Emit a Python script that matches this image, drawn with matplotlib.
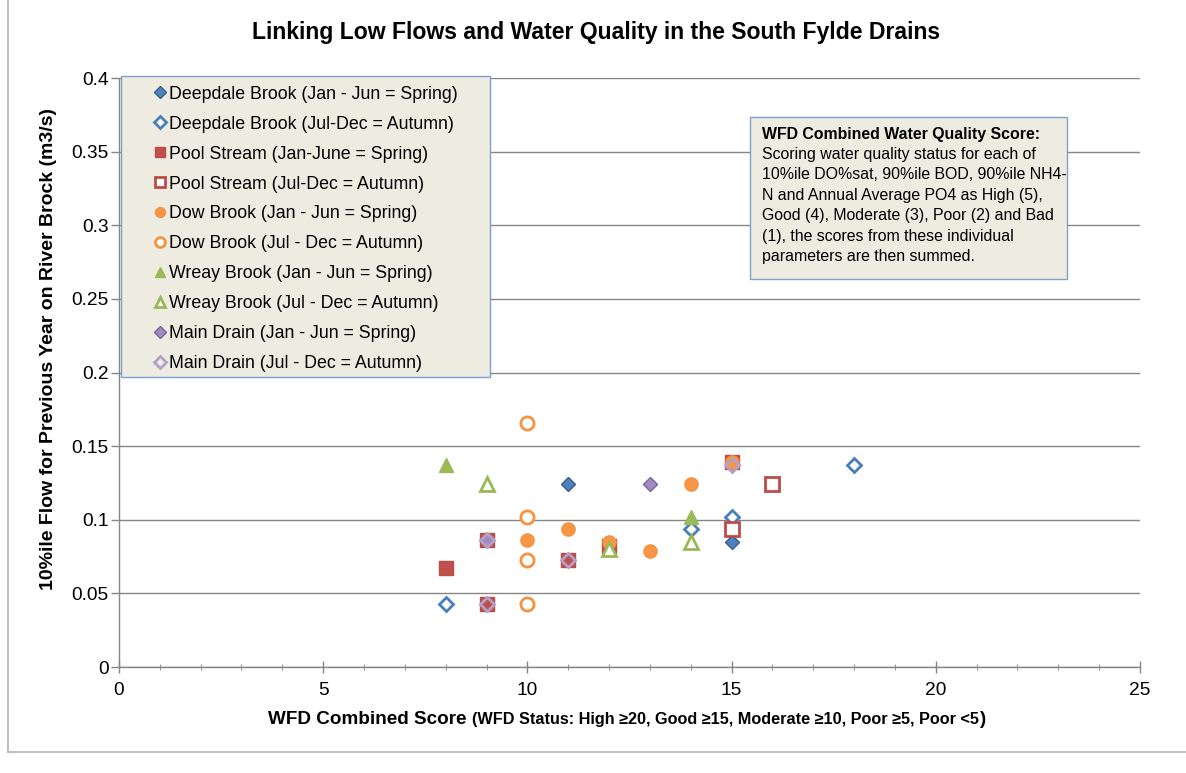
import matplotlib
matplotlib.use("Agg")
import matplotlib.pyplot as plt
from matplotlib.ticker import MultipleLocator, FuncFormatter
from matplotlib.patches import Rectangle

plt.rcParams['font.family'] = ['Liberation Sans', 'DejaVu Sans']

# ---- data ----
deepdale_spring_x = [11, 15, 12]
deepdale_spring_y = [0.124, 0.085, 0.080]
deepdale_autumn_x = [8, 14, 15, 18]
deepdale_autumn_y = [0.043, 0.094, 0.102, 0.137]
pool_spring_x = [8, 9, 9, 11, 12, 15]
pool_spring_y = [0.067, 0.086, 0.043, 0.073, 0.082, 0.139]
pool_autumn_x = [15, 16]
pool_autumn_y = [0.094, 0.124]
dow_spring_x = [10, 11, 12, 13, 14, 15]
dow_spring_y = [0.086, 0.094, 0.085, 0.079, 0.124, 0.139]
dow_autumn_x = [10, 10, 10, 10]
dow_autumn_y = [0.166, 0.102, 0.073, 0.043]
wreay_spring_x = [8, 14]
wreay_spring_y = [0.137, 0.102]
wreay_autumn_x = [9, 12, 14]
wreay_autumn_y = [0.124, 0.080, 0.085]
main_spring_x = [13, 9]
main_spring_y = [0.124, 0.086]
main_autumn_x = [9, 9, 11, 15]
main_autumn_y = [0.086, 0.043, 0.073, 0.137]

labels = ["Deepdale Brook (Jan - Jun = Spring)",
          "Deepdale Brook (Jul-Dec = Autumn)",
          "Pool Stream (Jan-June = Spring)",
          "Pool Stream (Jul-Dec = Autumn)",
          "Dow Brook (Jan - Jun = Spring)",
          "Dow Brook (Jul - Dec = Autumn)",
          "Wreay Brook (Jan - Jun = Spring)",
          "Wreay Brook (Jul - Dec = Autumn)",
          "Main Drain (Jan - Jun = Spring)",
          "Main Drain (Jul - Dec = Autumn)"]

x_ticks = [0, 5, 10, 15, 20, 25]
y_ticks = [0, 0.05, 0.1, 0.15, 0.2, 0.25, 0.3, 0.35, 0.4]

W, H = 1186, 773
fig = plt.figure(figsize=(W / 100, H / 100), dpi=100)
ax = fig.add_axes([0.1003, 0.1371, 0.8609, 0.7619])

series = [
    (deepdale_spring_x, deepdale_spring_y, 'D', '#4F81BD', '#385D8A', True, 7.5),
    (deepdale_autumn_x, deepdale_autumn_y, 'D', 'white', '#4A7EBB', False, 7.5),
    (pool_spring_x, pool_spring_y, 's', '#C0504D', '#BE4B48', True, 9.5),
    (pool_autumn_x, pool_autumn_y, 's', 'white', '#BE4B48', False, 9.5),
    (dow_spring_x, dow_spring_y, 'o', '#F79646', '#F69240', True, 9.5),
    (dow_autumn_x, dow_autumn_y, 'o', 'white', '#F69240', False, 9.5),
    (wreay_spring_x, wreay_spring_y, '^', '#9BBB59', '#98B954', True, 9.5),
    (wreay_autumn_x, wreay_autumn_y, '^', 'white', '#98B954', False, 9.5),
    (main_spring_x, main_spring_y, 'D', '#9F8CC0', '#7D60A0', True, 7.5),
    (main_autumn_x, main_autumn_y, 'D', 'none', '#B3A2C7', False, 7.5),
]

handles = []
for (xs, ys, m, fc, ec, filled, ms), lab in zip(series, labels):
    h, = ax.plot(xs, ys, linestyle='none', marker=m, markersize=ms,
                 markerfacecolor=fc, markeredgecolor=ec,
                 markeredgewidth=1.0 if filled else 2.0,
                 label=lab, zorder=3)
    handles.append(h)

ax.set_xlim(0, 25)
ax.set_ylim(0, 0.4)
ax.set_xticks(x_ticks)
ax.xaxis.set_minor_locator(MultipleLocator(1))
ax.set_yticks(y_ticks)
ax.yaxis.set_major_formatter(FuncFormatter(lambda v, p: ('%g' % round(v, 2))))
ax.grid(axis='y', color='#868686', linewidth=1.0)
ax.set_axisbelow(True)
for s in ['top', 'right']:
    ax.spines[s].set_visible(False)
for s in ['left', 'bottom']:
    ax.spines[s].set_color('#868686')
    ax.spines[s].set_linewidth(1.0)
ax.tick_params(axis='both', which='major', labelsize=13.8, color='#868686',
               length=6, width=1.0, direction='out')
ax.tick_params(axis='x', which='minor', color='#868686', length=5, direction='inout')
ax.tick_params(axis='x', which='major', direction='inout', length=8, pad=7)
ax.tick_params(axis='y', which='major', pad=1.5)

fig.text(0.503, 1 - 32 / H, "Linking Low Flows and Water Quality in the South Fylde Drains",
         ha='center', va='center', fontsize=16.6, fontweight='bold')

ax.set_ylabel("10%ile Flow for Previous Year on River Brock (m3/s)",
              fontsize=14, fontweight='bold')
ax.yaxis.set_label_coords((57 - 119) / 1021, 0.54)

# x label in pieces
fig.canvas.draw()
r = fig.canvas.get_renderer()
ylab = 1 - 724 / H
t1 = fig.text(268 / W, ylab, "WFD Combined Score ", fontsize=13.6, fontweight='bold',
              ha='left', va='baseline')
bb = t1.get_window_extent(r)
t2 = fig.text(bb.x1 / W, ylab,
              "(WFD Status: High \u226520, Good \u226515, Moderate \u226510, Poor \u22655, Poor <5",
              fontsize=11.7, fontweight='bold', ha='left', va='baseline',
              family=['Liberation Sans Narrow', 'Liberation Sans', 'DejaVu Sans'])
bb2 = t2.get_window_extent(r)
fig.text(bb2.x1 / W, ylab, ")", fontsize=13.6, fontweight='bold',
         ha='left', va='baseline')

# legend box background (inside the axes so the legend draws over it)
lx0, ly0, lx1, ly1 = 121, 76, 490, 377
ax.add_patch(Rectangle((lx0 / W, 1 - ly1 / H), (lx1 - lx0) / W, (ly1 - ly0) / H,
                       transform=fig.transFigure, facecolor='#EEECE1',
                       edgecolor='#7F9FCF', linewidth=1.0, zorder=4, clip_on=False))
leg = ax.legend(handles=handles, loc='upper left',
                bbox_to_anchor=((153 - 119) / 1021, (667 - 85.5) / 589),
                fontsize=12.8, frameon=False, borderpad=0,
                labelspacing=0.73, handlelength=0.8, handletextpad=0.12,
                borderaxespad=0, markerscale=0.75)
leg.set_zorder(6)

box_title = "WFD Combined Water Quality Score:"
box_lines = ["Scoring water quality status for each of",
             "10%ile DO%sat, 90%ile BOD, 90%ile NH4-",
             "N and Annual Average PO4 as High (5),",
             "Good (4), Moderate (3), Poor (2) and Bad",
             "(1), the scores from these individual",
             "parameters are then summed."]
bx0, by0, bx1, by1 = 750, 117, 1067, 279
fig.patches.append(Rectangle((bx0 / W, 1 - by1 / H), (bx1 - bx0) / W, (by1 - by0) / H,
                             transform=fig.transFigure, facecolor='#EEECE1',
                             edgecolor='#7F9FCF', linewidth=1.0, zorder=4))
fig.text(762 / W, 1 - 134 / H, box_title, fontsize=11.4, fontweight='bold',
         ha='left', va='center', zorder=6)
for i, line in enumerate(box_lines):
    fig.text(762 / W, 1 - (154.5 + 20.4 * i) / H, line, fontsize=11.4,
             ha='left', va='center', zorder=6)

# outer chart border (partial)
fig.add_artist(plt.Line2D([8 / W, 8 / W], [1, 1 - 752 / H], color='#BFBFBF',
                          linewidth=1.5, transform=fig.transFigure))
fig.add_artist(plt.Line2D([8 / W, 1], [1 - 752 / H, 1 - 752 / H], color='#BFBFBF',
                          linewidth=1.5, transform=fig.transFigure))

fig.savefig("out.png", dpi=100, facecolor='white')
